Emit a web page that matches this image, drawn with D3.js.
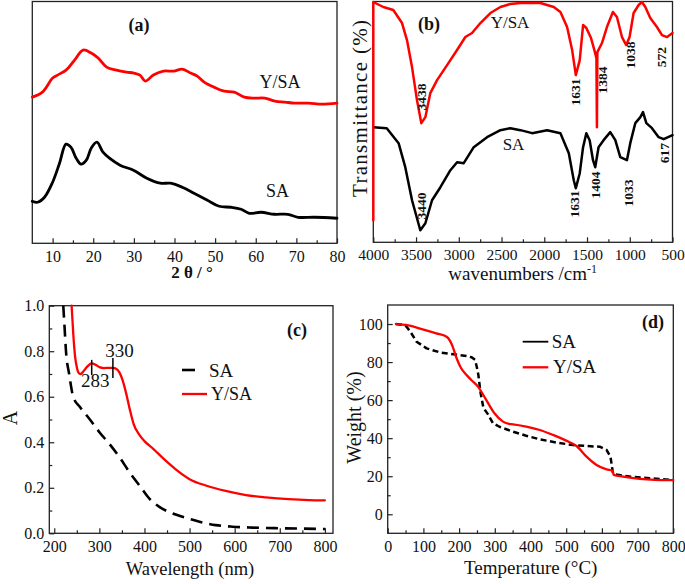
<!DOCTYPE html>
<html><head><meta charset="utf-8">
<script src="https://cdn.jsdelivr.net/npm/d3@7"></script>
<style>
body{margin:0;background:#fff;}
svg text{font-family:"Liberation Serif","Times New Roman",serif;fill:#111;}
</style>
</head><body>
<svg id="chart" width="685" height="584"></svg>
<script>
// ---------- DATA ----------
// (a) XRD: [2theta, intensity a.u.]
const xrdYSA = [[5,146],[7.5,151],[10,165],[11.2,168],[13.3,173],[15.4,183],[17.5,193],[19.5,190],[21.2,185],[23.3,176],[25.7,173],[28.2,171],[30,170],[31.5,168],[32.8,162],[34.8,168],[37.3,172],[39.8,172],[41.9,174],[44,170],[45.6,167],[47.3,161],[49.7,156],[52.2,152],[54.7,151],[57.2,146],[59.7,145],[62.2,145],[64.7,142],[67.2,141],[69.6,140],[73,140],[76.3,139],[80,140]];
const xrdSA = [[5,42],[6.3,41],[8,46],[10,61],[11.7,80],[13.3,99],[14.5,96],[15.8,85],[17,79],[18.3,83],[19.5,95],[20.9,101],[22.4,91],[24,85],[26.6,78],[29.9,73],[33.2,65],[36.5,60],[39,60],[41.9,56],[44.8,50],[48.1,43],[51,37],[53.9,36],[56.4,34],[58.4,30],[61.3,31],[64.6,29],[67.9,29],[70.4,26],[74.5,26],[80,25]];
const xrdTicks = [10,20,30,40,50,60,70,80];

// (b) FTIR: [wavenumber, transmittance a.u.]
const ftirYSA = [[4000,22],[4000,240],[3883,235],[3766,232],[3664,219],[3606,202],[3547,175],[3489,142],[3438,119],[3391,125],[3333,149],[3254,162],[3137,177],[3020,192],[2923,205],[2845,209],[2747,219],[2630,229],[2513,235],[2396,238],[2279,239],[2045,239],[1889,235],[1811,230],[1733,215],[1674,192],[1631,167],[1585,182],[1546,217],[1508,214],[1453,204],[1414,192],[1390,184],[1384,115],[1379,190],[1325,199],[1267,215],[1197,230],[1150,225],[1091,205],[1041,197],[1002,205],[955,229],[896,237],[857,240],[818,235],[760,224],[682,215],[623,207],[564,205],[500,209]];
const ftirSA = [[4000,115],[3843,114],[3704,99],[3626,75],[3547,42],[3450,12],[3391,19],[3313,42],[3215,55],[3098,72],[3020,80],[2942,79],[2825,95],[2669,105],[2513,112],[2396,114],[2279,112],[2142,109],[1967,112],[1811,109],[1713,89],[1655,62],[1631,54],[1585,69],[1546,95],[1508,109],[1469,102],[1430,82],[1404,75],[1365,95],[1306,102],[1228,110],[1169,102],[1111,85],[1033,82],[994,99],[935,119],[876,125],[845,130],[806,119],[740,114],[662,105],[603,103],[500,107]];
const ftirTicks = [4000,3500,3000,2500,2000,1500,1000,500];
const ftirPeakWn = [3438,1631,1384,1038,572,3440,1631,1404,1033,617];
const ftirPeakText = ["3438","1631","1384","1038","572","3440","1631","1404","1033","617"];

// (c) UV-vis: [wavelength nm, absorbance]
const uvYSA = [[238.5,1.0],[242,0.88],[246,0.78],[250,0.73],[254,0.705],[258,0.700],[264,0.710],[272,0.730],[283,0.747],[292,0.740],[300,0.730],[310,0.726],[320,0.727],[330,0.727],[338,0.722],[345,0.705],[352,0.67],[360,0.61],[368,0.54],[376,0.48],[388,0.435],[400,0.405],[420,0.37],[441,0.33],[470,0.28],[500,0.238],[536,0.21],[580,0.186],[625,0.168],[669,0.158],[720,0.150],[764,0.146],[800,0.145]];
const uvSA = [[220,1.0],[223,0.9],[226,0.8],[233,0.7],[242,0.6],[257,0.555],[279,0.5],[301,0.442],[323,0.391],[345,0.333],[367,0.268],[389,0.21],[411,0.152],[433,0.116],[463,0.087],[492,0.068],[522,0.051],[558,0.036],[595,0.029],[639,0.025],[706,0.022],[801,0.019]];
const uvPeaks = [283,330];
const uvXTicks = [200,300,400,500,600,700,800];
const uvYTicks = [0,0.2,0.4,0.6,0.8,1.0];

// (d) TGA: [temperature C, weight %]
const tgaSA = [[23,100],[42,99.6],[53,98.6],[65,95.5],[81,90.7],[109,87.2],[146,85.1],[184,84.1],[221,83.2],[235,82.5],[245,81.1],[250,77],[254,73.2],[260,64],[268,56],[281,52.5],[295,47.8],[313,46],[351,43.4],[388,41.3],[426,39.4],[472,37.7],[519,36.4],[557,35.9],[594,35.5],[613,33.8],[624,30.3],[629,24],[631,21.5],[636,21],[678,19.8],[734,18.9],[800,18]];
const tgaYSA = [[23,100],[51,99.5],[98,97.2],[136,95.1],[165,93.3],[175,91],[182,88.1],[193,82],[205,77],[221,73.2],[234,70.6],[253,67.1],[276,60.1],[299,53.1],[323,48.7],[340,47.5],[351,47.3],[388,46.1],[426,44.3],[463,41.7],[500,38.7],[529,35.9],[557,30.3],[585,25.9],[613,23.6],[630,22.9],[633,20.7],[659,19.8],[706,18.6],[762,18],[800,18]];
const tgaXTicks = [0,100,200,300,400,500,600,700,800];
const tgaYTicks = [0,20,40,60,80,100];

// ---------- DRAWING ----------
const svg = d3.select("#chart");
const AX = "#222";
const FONT = '"Liberation Serif","Times New Roman",serif';

function frame(x0,y0,x1,y1){
  svg.append("rect").attr("x",x0).attr("y",y0).attr("width",x1-x0).attr("height",y1-y0)
    .attr("fill","none").attr("stroke",AX).attr("stroke-width",1.3);
}
function styleAxis(g,fs){
  g.attr("font-family",FONT).attr("font-size",fs);
  g.select(".domain").remove();
  g.selectAll("line").attr("stroke",AX).attr("stroke-width",1.2);
  g.selectAll("text").attr("fill","#111");
}
function xAxis(scale,y,major,minor,fmt,fs){
  const g = svg.append("g").attr("transform",`translate(0,${y})`)
    .call(d3.axisBottom(scale).tickValues(major).tickSize(-5).tickPadding(7).tickFormat(fmt));
  styleAxis(g,fs);
  if(minor){
    const g2 = svg.append("g").attr("transform",`translate(0,${y})`)
      .call(d3.axisBottom(scale).tickValues(minor).tickSize(-3).tickFormat(""));
    styleAxis(g2,fs);
  }
}
function yAxis(scale,x,major,minor,fmt,fs){
  const g = svg.append("g").attr("transform",`translate(${x},0)`)
    .call(d3.axisLeft(scale).tickValues(major).tickSize(-5).tickPadding(5).tickFormat(fmt));
  styleAxis(g,fs);
  if(minor){
    const g2 = svg.append("g").attr("transform",`translate(${x},0)`)
      .call(d3.axisLeft(scale).tickValues(minor).tickSize(-3).tickFormat(""));
    styleAxis(g2,fs);
  }
}
function text(x,y,s,opt={}){
  const t = svg.append("text").attr("x",x).attr("y",y).text(s)
    .attr("font-size",opt.fs||18).attr("text-anchor",opt.anchor||"middle");
  if(opt.bold) t.attr("font-weight","bold");
  if(opt.rot!==undefined) t.attr("transform",`rotate(${opt.rot},${x},${y})`);
  if(opt.baseline) t.attr("dominant-baseline",opt.baseline);
  if(opt.fill) t.attr("fill",opt.fill);
  return t;
}
function path(data,xs,ys,color,w,dash,curve){
  const p = svg.append("path").datum(data)
    .attr("d",d3.line().x(d=>xs(d[0])).y(d=>ys(d[1])).curve(curve||d3.curveLinear))
    .attr("fill","none").attr("stroke",color).attr("stroke-width",w)
    .attr("stroke-linejoin","round").attr("stroke-linecap",dash?"butt":"round");
  if(dash) p.attr("stroke-dasharray",dash);
  return p;
}
const range = (a,b,s)=>d3.range(a,b+s/2,s);

// ===== Panel (a) =====
const xA = d3.scaleLinear([5,80],[32.3,337]);
const yA = d3.scaleLinear([0,241],[243.3,2]);
frame(32.3,1.5,337,243.3);
path(xrdYSA,xA,yA,"#ff0000",2.8,null,d3.curveCatmullRom);
path(xrdSA,xA,yA,"#000",2.8,null,d3.curveCatmullRom);
xAxis(xA,243.3,xrdTicks,range(15,75,10),d3.format("d"),16);
text(139,31,"(a)",{bold:true,fs:18});
text(280,88,"Y/SA",{fs:18});
text(277.5,197,"SA",{fs:18});
text(192,278,"2 θ / °",{bold:true,fs:17});

// ===== Panel (b) =====
const xB = d3.scaleLinear([4000,500],[373.3,672.5]);
const yB = d3.scaleLinear([0,240],[242.3,2]);
frame(373.3,1.5,672.5,242.3);
path(ftirSA,xB,yB,"#000",2.5);
path(ftirYSA,xB,yB,"#ff0000",2.5);
xAxis(xB,242.3,ftirTicks,range(750,3750,500),d3.format("d"),15.5);
text(429,30,"(b)",{bold:true,fs:18});
text(510,28,"Y/SA",{fs:17});
text(513.5,150,"SA",{fs:17});
const peakDx = [0.5,-0.5,6,3.5,-4.5,0.5,-1,0,2,2.5];
const peakY  = [97,92,80,55,57,206,204,185,193,153];
ftirPeakWn.forEach((wn,i)=>{
  text(xB(wn)+peakDx[i],peakY[i],ftirPeakText[i],{bold:true,fs:13.5,rot:-90,baseline:"central"});
});
text(367,108.5,"Transmittance  (%)",{fs:21,rot:-90}).attr("textLength",177).attr("lengthAdjust","spacing");
const wt = text(522.7,280,"wavenumbers /cm",{fs:19});
wt.append("tspan").attr("font-size",12).attr("dy",-7).text("-1");

// ===== Panel (c) =====
const xC = d3.scaleLinear([189,818],[49.3,333]);
const yC = d3.scaleLinear([0,1],[533.3,305.7]);
frame(49.3,305.7,333,533.3);
path(uvSA,xC,yC,"#000",2.6,"12,7",d3.curveMonotoneX);
path(uvYSA,xC,yC,"#ff0000",2.3,null,d3.curveMonotoneX);
xAxis(xC,533.3,uvXTicks,range(250,750,100),d3.format("d"),16);
yAxis(yC,49.3,uvYTicks,range(0.1,0.9,0.2),d3.format(".1f"),16);
// peak markers
const mk = [[0.695,0.762],[0.682,0.770]];
uvPeaks.forEach((w,i)=>{
  svg.append("line").attr("x1",xC(w)).attr("x2",xC(w)).attr("y1",yC(mk[i][0])).attr("y2",yC(mk[i][1]))
    .attr("stroke","#000").attr("stroke-width",1.5);
});
text(xC(330)+6.5,357,"330",{fs:19});
text(xC(283)+3.5,387,"283",{fs:19});
text(297,336,"(c)",{bold:true,fs:18});
svg.append("line").attr("x1",182).attr("x2",195).attr("y1",370).attr("y2",370).attr("stroke","#000").attr("stroke-width",2.6);
text(209,377,"SA",{fs:19,anchor:"start"});
svg.append("line").attr("x1",182).attr("x2",207).attr("y1",394).attr("y2",394).attr("stroke","#ff0000").attr("stroke-width",2.3);
text(211,400,"Y/SA",{fs:18,anchor:"start"});
text(190,575,"Wavelength (nm)",{fs:18.5});
text(17,418,"A",{fs:20,rot:-90});

// ===== Panel (d) =====
const xD = d3.scaleLinear([0,800],[387.7,673.3]);
const yD = d3.scaleLinear([-10,110],[533.3,305]);
frame(387.7,305,673.3,533.3);
path(tgaSA,xD,yD,"#000",2.5,"6,3.5");
path(tgaYSA,xD,yD,"#ff0000",2.3,null,d3.curveMonotoneX);
xAxis(xD,533.3,tgaXTicks,range(50,750,100),d3.format("d"),16);
yAxis(yD,387.7,tgaYTicks,range(-10,110,20).filter(v=>v>-10&&v<110),d3.format("d"),16);
text(653,328,"(d)",{bold:true,fs:18});
svg.append("line").attr("x1",522.7).attr("x2",548.3).attr("y1",341.7).attr("y2",341.7).attr("stroke","#000").attr("stroke-width",1.8);
text(551.7,348,"SA",{fs:19,anchor:"start"});
svg.append("line").attr("x1",522.7).attr("x2",548.3).attr("y1",367.3).attr("y2",367.3).attr("stroke","#ff0000").attr("stroke-width",2.3);
text(553,373,"Y/SA",{fs:19,anchor:"start"});
const tt = text(530.7,574,"Temperature (",{fs:19});
tt.append("tspan").text("°C");
tt.append("tspan").text(")");
text(361,417.5,"Weight (%)",{fs:20,rot:-90});
</script>
</body></html>
